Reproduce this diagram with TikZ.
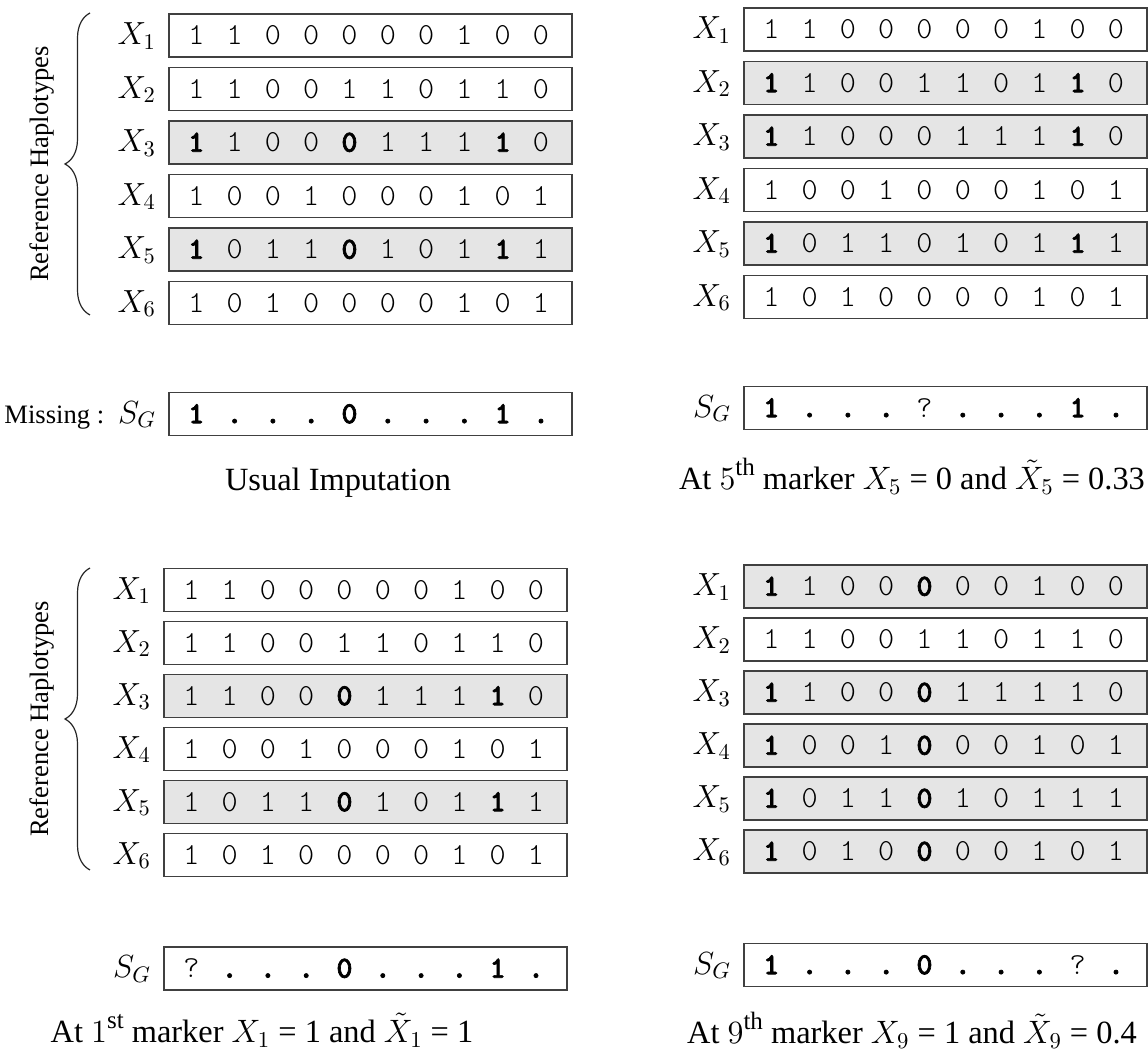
\RequirePackage{fix-cm}
\documentclass[tikz,border=0pt]{standalone}
\usepackage{amsmath}
\usepackage[no-math]{fontspec}
\setmainfont{Liberation Serif}
\newfontfamily\bitfont{lmmonolt10-regular.otf}
\newfontfamily\bitheavy{lmmonolt10-bold.otf}[FakeBold=2.2]
\usetikzlibrary{decorations.pathreplacing}
\newcommand{\hl}[1]{{\bitheavy #1}}
\newcommand{\ord}[1]{\raisebox{7pt}{\fontsize{12.5}{13}\selectfont #1}}

\begin{document}
\begin{tikzpicture}[x=0.5pt,y=-0.5pt,
  hap/.style={draw=black!75, line width=0.7pt, minimum width=201.5pt, minimum height=21.5pt, inner sep=0pt},
  bit/.style={anchor=base, inner sep=0pt, font=\fontsize{15.3}{16}\bitfont},
  lab/.style={anchor=base east, inner sep=0pt, font=\fontsize{16}{18}\selectfont},
  captext/.style={font=\fontsize{16.2}{19}\selectfont},
  side/.style={font=\fontsize{13.3}{15}\selectfont}]
  \useasboundingbox (0,0) rectangle (1148,1053);

  % usual imputation (top left)
  \foreach \i/\sh/\bits in {
      1/white/{1,1,0,0,0,0,0,1,0,0},
      2/white/{1,1,0,0,1,1,0,1,1,0},
      3/black!10/{\hl1,1,0,0,\hl0,1,1,1,\hl1,0},
      4/white/{1,0,0,1,0,0,0,1,0,1},
      5/black!10/{\hl1,0,1,1,\hl0,1,0,1,\hl1,1},
      6/white/{1,0,1,0,0,0,0,1,0,1}} {
    \node[hap, fill=\sh] (u\i) at (370.5,{35.5+53.5*(\i-1)}) {};
    \node[lab] (u\i-l) at ([xshift=-6pt, yshift=-4.6pt]u\i.west) {$X_{\i}$};
    \foreach \b [count=\k] in \bits
      \node[bit] (u\i-\k) at ([xshift={14pt+19.15pt*(\k-1)}, yshift=-4.6pt]u\i.west) {\b};
  }
  \node[hap] (usg) at (370.5,414) {};
  \node[lab] (usg-l) at ([xshift=-6pt, yshift=-4.6pt]usg.west) {$S_G$};
  \node[side, anchor=base east, inner sep=0pt] (umiss) at ([xshift=-6.5pt]usg-l.base west) {Missing :};
  \foreach \b [count=\k] in {\hl1,\hl.,\hl.,\hl.,\hl0,\hl.,\hl.,\hl.,\hl1,\hl.}
    \node[bit] (usg-\k) at ([xshift={14pt+19.15pt*(\k-1)}, yshift=-4.6pt]usg.west) {\b};
  \coordinate (ubtop) at (90,13);
  \coordinate (ubbot) at (90,315);
  \draw[black!85, line width=0.6pt, decorate, decoration={brace, amplitude=12.5pt}] (ubbot) -- (ubtop);
  \node[side, rotate=90] (uref) at (42,164) {Reference Haplotypes};
  \node[captext] (ucap) at (338,483) {Usual Imputation};

  % 5th marker (top right)
  \foreach \i/\sh/\bits in {
      1/white/{1,1,0,0,0,0,0,1,0,0},
      2/black!10/{\hl1,1,0,0,1,1,0,1,\hl1,0},
      3/black!10/{\hl1,1,0,0,0,1,1,1,\hl1,0},
      4/white/{1,0,0,1,0,0,0,1,0,1},
      5/black!10/{\hl1,0,1,1,0,1,0,1,\hl1,1},
      6/white/{1,0,1,0,0,0,0,1,0,1}} {
    \node[hap, fill=\sh] (r\i) at (945.5,{29.5+53.5*(\i-1)}) {};
    \node[lab] (r\i-l) at ([xshift=-6pt, yshift=-4.6pt]r\i.west) {$X_{\i}$};
    \foreach \b [count=\k] in \bits
      \node[bit] (r\i-\k) at ([xshift={14pt+19.15pt*(\k-1)}, yshift=-4.6pt]r\i.west) {\b};
  }
  \node[hap] (rsg) at (945.5,408) {};
  \node[lab] (rsg-l) at ([xshift=-6pt, yshift=-4.6pt]rsg.west) {$S_G$};
  \foreach \b [count=\k] in {\hl1,\hl.,\hl.,\hl.,?,\hl.,\hl.,\hl.,\hl1,\hl.}
    \node[bit] (rsg-\k) at ([xshift={14pt+19.15pt*(\k-1)}, yshift=-4.6pt]rsg.west) {\b};
  \node[captext] (rcap) at (912,476) {At $5$\ord{th} marker $X_5$ = 0 and $\tilde{X}_5$ = 0.33};

  % 1st marker (bottom left)
  \foreach \i/\sh/\bits in {
      1/white/{1,1,0,0,0,0,0,1,0,0},
      2/white/{1,1,0,0,1,1,0,1,1,0},
      3/black!10/{1,1,0,0,\hl0,1,1,1,\hl1,0},
      4/white/{1,0,0,1,0,0,0,1,0,1},
      5/black!10/{1,0,1,1,\hl0,1,0,1,\hl1,1},
      6/white/{1,0,1,0,0,0,0,1,0,1}} {
    \node[hap, fill=\sh] (l\i) at (365.5,{590+53*(\i-1)}) {};
    \node[lab] (l\i-l) at ([xshift=-6pt, yshift=-4.6pt]l\i.west) {$X_{\i}$};
    \foreach \b [count=\k] in \bits
      \node[bit] (l\i-\k) at ([xshift={14pt+19.15pt*(\k-1)}, yshift=-4.6pt]l\i.west) {\b};
  }
  \node[hap] (lsg) at (365.5,968.5) {};
  \node[lab] (lsg-l) at ([xshift=-6pt, yshift=-4.6pt]lsg.west) {$S_G$};
  \foreach \b [count=\k] in {?,\hl.,\hl.,\hl.,\hl0,\hl.,\hl.,\hl.,\hl1,\hl.}
    \node[bit] (lsg-\k) at ([xshift={14pt+19.15pt*(\k-1)}, yshift=-4.6pt]lsg.west) {\b};
  \coordinate (lbtop) at (90,568);
  \coordinate (lbbot) at (90,870);
  \draw[black!85, line width=0.6pt, decorate, decoration={brace, amplitude=12.5pt}] (lbbot) -- (lbtop);
  \node[side, rotate=90] (lref) at (42,719) {Reference Haplotypes};
  \node[captext] (lcap) at (262,1030) {At $1$\ord{st} marker $X_1$ = 1 and $\tilde{X}_1$ = 1};

  % 9th marker (bottom right)
  \foreach \i/\sh/\bits in {
      1/black!10/{\hl1,1,0,0,\hl0,0,0,1,0,0},
      2/white/{1,1,0,0,1,1,0,1,1,0},
      3/black!10/{\hl1,1,0,0,\hl0,1,1,1,1,0},
      4/black!10/{\hl1,0,0,1,\hl0,0,0,1,0,1},
      5/black!10/{\hl1,0,1,1,\hl0,1,0,1,1,1},
      6/black!10/{\hl1,0,1,0,\hl0,0,0,1,0,1}} {
    \node[hap, fill=\sh] (d\i) at (945.5,{586.5+53*(\i-1)}) {};
    \node[lab] (d\i-l) at ([xshift=-6pt, yshift=-4.6pt]d\i.west) {$X_{\i}$};
    \foreach \b [count=\k] in \bits
      \node[bit] (d\i-\k) at ([xshift={14pt+19.15pt*(\k-1)}, yshift=-4.6pt]d\i.west) {\b};
  }
  \node[hap] (dsg) at (945.5,965) {};
  \node[lab] (dsg-l) at ([xshift=-6pt, yshift=-4.6pt]dsg.west) {$S_G$};
  \foreach \b [count=\k] in {\hl1,\hl.,\hl.,\hl.,\hl0,\hl.,\hl.,\hl.,?,\hl.}
    \node[bit] (dsg-\k) at ([xshift={14pt+19.15pt*(\k-1)}, yshift=-4.6pt]dsg.west) {\b};
  \node[captext] (dcap) at (912,1030) {At $9$\ord{th} marker $X_9$ = 1 and $\tilde{X}_9$ = 0.4};
\end{tikzpicture}
\end{document}
